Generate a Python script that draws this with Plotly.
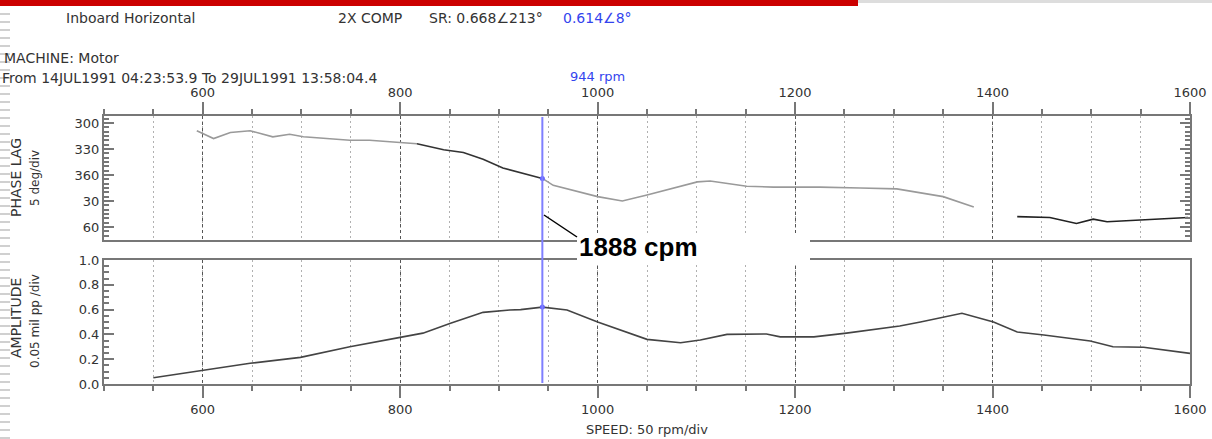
import plotly.graph_objects as go

W, H = 1212, 439

# ---------------- data ----------------
# Phase lag (degrees, continuing past 360 -> 390 = 30, 420 = 60)
phase_rpm_a = [594, 611, 628, 648, 671, 688, 702, 749, 769, 800, 817]
phase_deg_a = [309, 318, 311, 309, 316, 313, 316, 320, 320, 323, 324]
phase_rpm_b = [817, 844, 864, 884, 904, 944]
phase_deg_b = [324, 331, 334, 342, 352, 364]
phase_rpm_c = [944, 955, 1000, 1025, 1050, 1077, 1101, 1114, 1151, 1178, 1225, 1266, 1303, 1350, 1381]
phase_deg_c = [364, 372, 385, 390, 383, 375, 368, 367, 373, 374, 374, 375, 376, 385, 397]
phase_rpm_d = [1425, 1458, 1485, 1502, 1516, 1553, 1598]
phase_deg_d = [408, 409, 416, 411, 414, 412, 409]

amp_rpm = [550, 600, 648, 699, 749, 800, 823, 851, 884, 911, 922, 944, 969, 1000, 1050, 1084,
           1104, 1131, 1171, 1185, 1219, 1252, 1289, 1306, 1327, 1350, 1369, 1401, 1425, 1452,
           1499, 1522, 1553, 1600]
amp_mil = [0.05, 0.107, 0.167, 0.215, 0.30, 0.376, 0.41, 0.49, 0.578, 0.597, 0.60, 0.62, 0.597,
           0.50, 0.36, 0.333, 0.355, 0.40, 0.403, 0.38, 0.38, 0.41, 0.45, 0.468, 0.50, 0.54, 0.57,
           0.50, 0.42, 0.395, 0.347, 0.30, 0.296, 0.247]

cursor_rpm = 944
cursor_phase = 364
cursor_amp = 0.62

x_tickvals = [600, 800, 1000, 1200, 1400, 1600]
phase_tickvals = [300, 330, 360, 390, 420]
phase_ticktext = ["300", "330", "360", "30", "60"]
amp_tickvals = [0.0, 0.2, 0.4, 0.6, 0.8, 1.0]


def px(x):
    return x / W


def py(y):
    return 1 - y / H


FONT = "DejaVu Sans"
AX = "#777777"
TXT = "#333333"

fig = go.Figure()

seg_style = [("#9a9a9a", phase_rpm_a, phase_deg_a),
             ("#333333", phase_rpm_b, phase_deg_b),
             ("#9a9a9a", phase_rpm_c, phase_deg_c),
             ("#222222", phase_rpm_d, phase_deg_d)]
for col, xs, ys in seg_style:
    fig.add_trace(go.Scatter(x=xs, y=ys, mode="lines", line=dict(color=col, width=1.6),
                             xaxis="x2", yaxis="y2", showlegend=False, hoverinfo="skip"))

fig.add_trace(go.Scatter(x=amp_rpm, y=amp_mil, mode="lines", line=dict(color="#444444", width=1.6),
                         xaxis="x", yaxis="y", showlegend=False, hoverinfo="skip"))

fig.add_trace(go.Scatter(x=[cursor_rpm], y=[cursor_phase], mode="markers",
                         marker=dict(color="#6060ff", size=5), xaxis="x2", yaxis="y2", showlegend=False))
fig.add_trace(go.Scatter(x=[cursor_rpm], y=[cursor_amp], mode="markers",
                         marker=dict(color="#6060ff", size=5), xaxis="x", yaxis="y", showlegend=False))

xcommon = dict(range=[500, 1600], domain=[px(104), px(1190)], tickvals=x_tickvals,
               showline=True, linecolor=AX, linewidth=2, mirror=True,
               ticks="outside", ticklen=12, tickcolor=AX, tickwidth=2,
               tickfont=dict(family=FONT, size=13, color=TXT),
               showgrid=True, gridcolor="#555555", griddash="3px,3px", gridwidth=1,
               zeroline=False, automargin=False,
               minor=dict(dtick=50, tick0=500, ticks="outside", ticklen=5, tickcolor=AX,
                          showgrid=True, gridcolor="#b0b0b0", griddash="2px,3px", gridwidth=1))

fig.update_layout(
    width=W, height=H, margin=dict(l=0, r=0, t=0, b=0), autosize=False,
    paper_bgcolor="white", plot_bgcolor="white", showlegend=False,
    xaxis=dict(anchor="y", side="bottom", **xcommon),
    xaxis2=dict(anchor="y2", side="top", matches="x", **xcommon),
    yaxis=dict(domain=[py(384), py(260)], range=[0, 1.0], anchor="x",
               tickvals=amp_tickvals, tickformat=".1f",
               showline=True, linecolor=AX, linewidth=2, mirror=True,
               ticks="inside", ticklen=10, tickcolor=AX, tickwidth=1.5,
               tickfont=dict(family=FONT, size=13, color=TXT),
               showgrid=False, zeroline=False, automargin=False,
               minor=dict(dtick=0.05, ticks="inside", ticklen=5, tickcolor=AX)),
    yaxis2=dict(domain=[py(240), py(116)], range=[435, 292], anchor="x2",
                tickvals=phase_tickvals, ticktext=phase_ticktext,
                showline=True, linecolor=AX, linewidth=2, mirror="ticks",
                ticks="inside", ticklen=10, tickcolor=AX, tickwidth=1.5,
                tickfont=dict(family=FONT, size=13, color=TXT),
                showgrid=False, zeroline=False, automargin=False,
                minor=dict(dtick=5, ticks="inside", ticklen=5, tickcolor=AX)),
)

shapes = [
    # top bars
    dict(type="rect", xref="paper", yref="paper", x0=0, x1=px(858), y0=py(6), y1=1,
         fillcolor="#cc0000", line=dict(width=0), layer="above"),
    dict(type="rect", xref="paper", yref="paper", x0=px(858), x1=1, y0=py(3), y1=1,
         fillcolor="#dddddd", line=dict(width=0), layer="above"),
    # left dashed decoration
    dict(type="line", xref="paper", yref="paper", x0=px(5), x1=px(5), y0=0, y1=py(8),
         line=dict(color="#d0d0d0", width=10, dash="2px,6px"), layer="above"),
    # white gap behind label
    dict(type="rect", xref="paper", yref="paper", x0=px(577), x1=px(810), y0=py(263), y1=py(236),
         fillcolor="white", line=dict(width=0), layer="above"),
    # cursor line
    dict(type="line", xref="x", yref="paper", x0=cursor_rpm, x1=cursor_rpm, y0=py(383), y1=py(117),
         line=dict(color="#7f7fff", width=2), layer="above"),
    # pointer line
    dict(type="line", xref="paper", yref="paper", x0=px(544), y0=py(215), x1=px(577), y1=py(237),
         line=dict(color="black", width=1.5), layer="above"),
]
fig.update_layout(shapes=shapes)


def txt(x, y, s, size=14, color=TXT, anchor="left", angle=0, family=FONT, weight="normal"):
    fig.add_annotation(xref="paper", yref="paper", x=px(x), y=py(y), text=s, showarrow=False,
                       xanchor=anchor, yanchor="middle", textangle=angle, borderpad=0,
                       font=dict(family=family, size=size, color=color, weight=weight))


txt(65, 18, "Inboard Horizontal", 14)
txt(337, 18, "2X COMP", 14)
txt(428, 18, "SR: 0.668∠213°", 14)
txt(562, 18, "0.614∠8°", 14, color="#3344ee")
txt(3, 58, "MACHINE: Motor", 14)
txt(1, 78, "From 14JUL1991 04:23:53.9 To 29JUL1991 13:58:04.4", 14)
txt(597, 77, "944 rpm", 13, color="#3344ee", anchor="center")

txt(16, 178, "PHASE LAG", 14, angle=-90, anchor="center")
txt(35, 178, "5 deg/div", 12, angle=-90, anchor="center")
txt(16, 318, "AMPLITUDE", 14, angle=-90, anchor="center")
txt(35, 321, "0.05 mil pp /div", 12, angle=-90, anchor="center")
txt(647, 429, "SPEED: 50 rpm/div", 13, anchor="center")

txt(578, 247, "1888 cpm", 26, color="black", family="Liberation Sans", weight="bold")

post = ("document.documentElement.style.margin='0';document.documentElement.style.overflow='hidden';"
        "document.body.style.margin='0';document.body.style.overflow='hidden';"
        "var gd=document.getElementById('{plot_id}');"
        "Plotly.relayout(gd,{width:1212,height:439});")

fig.write_html("out.html", post_script=post)
